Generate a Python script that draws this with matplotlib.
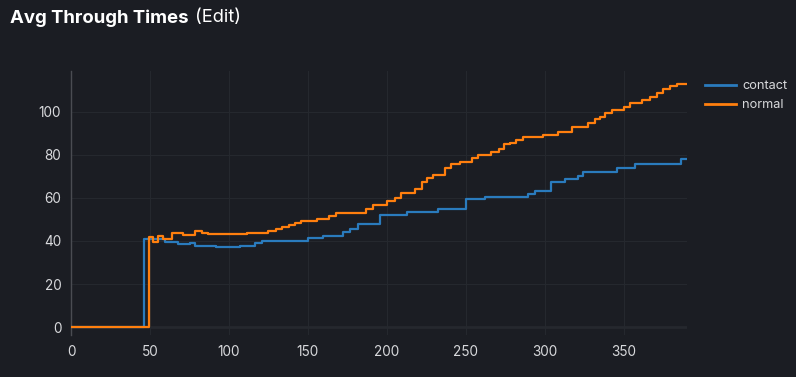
import matplotlib
matplotlib.use("Agg")
import matplotlib.pyplot as plt
from matplotlib.lines import Line2D

plt.rcParams['font.family'] = ['Inter', 'DejaVu Sans']

title_main = "Avg Through Times"
title_edit = "(Edit)"
series_names = ["contact", "normal"]

contact_x = [0, 46.4, 59.5, 67.5, 75.3, 78.5, 91.8, 107, 116.5, 120.7, 150.2, 159.3, 172.3,
             176.6, 181.9, 195.6, 212.5, 232.5, 249.8, 262, 289.5, 293.7, 303.6, 312.7,
             320.7, 323.9, 345.8, 357, 386, 390]
contact_y = [0, 40.8, 39.4, 38.5, 39.2, 37.8, 37.1, 37.6, 39.0, 40.1, 41.2, 42.3, 44.0,
             45.4, 47.9, 52.1, 53.6, 55.0, 59.4, 60.5, 61.9, 63.4, 67.6, 68.8,
             70.4, 72.2, 74.1, 75.7, 78.3, 78.3]

normal_x = [0, 49.4, 51.7, 55.3, 58, 63.7, 71, 78.5, 82.7, 86.9, 111.2, 124.9, 129.7, 133.7,
            138, 141.8, 145.6, 155.5, 163.5, 167.7, 186.7, 191.3, 199.8, 205.1, 208.7,
            217.7, 222, 225.5, 228.9, 236.7, 240.9, 246.2, 253.6, 257.8, 266.2, 270.9,
            274, 277.8, 282, 285.9, 298.9, 308.4, 316.9, 327.4, 331.6, 334.8, 338, 342.2,
            350, 353.8, 361.8, 366.5, 371.1, 374.9, 379.1, 383.4, 390]
normal_y = [0, 41.7, 39.7, 42.5, 40.9, 43.9, 43.0, 44.7, 43.9, 43.4, 43.9, 44.7, 45.7, 46.7,
            47.6, 48.5, 49.4, 50.4, 51.8, 53.2, 54.9, 56.7, 58.4, 60.1, 62.2,
            64.0, 67.6, 69.2, 70.7, 73.8, 75.7, 76.9, 78.5, 80.0, 81.3, 82.8,
            84.9, 85.7, 87.0, 88.2, 89.3, 90.8, 93.2, 94.7, 96.6, 97.8, 99.4, 100.9,
            102.5, 104.0, 105.3, 106.8, 109.0, 110.5, 111.8, 113.0, 113.0]

x_ticks = [0, 50, 100, 150, 200, 250, 300, 350]
y_ticks = [0, 20, 40, 60, 80, 100]

BG = "#1b1d23"
TXT = "#d8d9dc"
colors = ["#2a7bbd", "#ff7f0e"]

fig = plt.figure(figsize=(7.96, 3.77), dpi=100, facecolor=BG)
ax = fig.add_axes([71/796, 1 - 335/377, (687-71)/796, (335-71)/377], facecolor=BG)

ax.step(contact_x, contact_y, where="post", color=colors[0], lw=1.6, zorder=3)
ax.step(normal_x, normal_y, where="post", color=colors[1], lw=1.6, zorder=4)

ax.set_xlim(0, 390)
ax.set_ylim(-3.7, 119)
ax.set_xticks(x_ticks)
ax.set_yticks(y_ticks)
ax.grid(True, color="#25282e", lw=0.8, zorder=0)
ax.axhline(0, color="#4a4c52", lw=1.0, zorder=1)
for s in ["top", "right", "bottom"]:
    ax.spines[s].set_visible(False)
ax.spines["left"].set_color("#4a4c52")
ax.spines["left"].set_linewidth(1.0)
ax.tick_params(length=0, colors=TXT, labelsize=9.8, pad=7)

fig.text(10/796, 1 - 18/377, title_main, color="#ffffff", fontsize=13.4, fontweight="bold",
         va="center", ha="left")
fig.text(195/796, 1 - 18/377, title_edit, color="#ffffff", fontsize=13.2,
         va="center", ha="left")

handles = [Line2D([], [], color=c, lw=2) for c in colors]
leg = fig.legend(handles, series_names, loc="upper left", bbox_to_anchor=(700/796, 1 - 75/377),
                 frameon=False, fontsize=9.2, labelcolor=TXT, handlelength=2.4,
                 handletextpad=0.5, labelspacing=0.55, borderaxespad=0)

fig.savefig("out.png", dpi=100, facecolor=BG)
